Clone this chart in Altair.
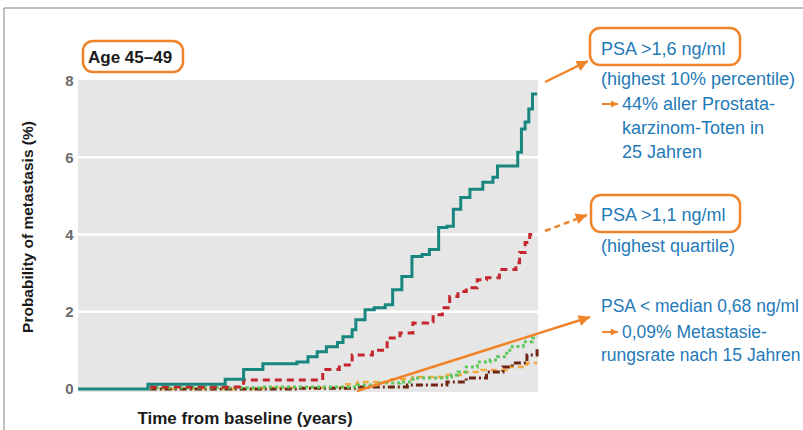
import altair as alt
import pandas as pd

# ---------------- data ----------------
# years from baseline / probability of metastasis (%)
teal_t = [0, 3.8, 8.0, 9.0, 10.05, 11.9, 12.5, 13.0, 13.5, 14.1, 14.4, 14.9, 15.1, 15.6,
          16.1, 16.7, 17.1, 17.6, 18.15, 18.7, 19.1, 19.6, 20.05, 20.4, 20.8, 21.3, 22.0,
          22.55, 22.8, 23.6, 23.9, 24.1, 24.3, 24.5, 24.7, 24.95]
teal_p = [0, 0.12, 0.25, 0.5, 0.65, 0.7, 0.83, 0.96, 1.09, 1.2, 1.35, 1.53, 1.79, 2.05,
          2.1, 2.18, 2.57, 2.91, 3.43, 3.48, 3.61, 4.18, 4.21, 4.65, 4.96, 5.17, 5.35,
          5.48, 5.77, 5.77, 6.13, 6.73, 6.91, 7.25, 7.64, 7.64]

red_t = [3.9, 9.0, 12.8, 13.3, 14.2, 14.9, 16.0, 16.8, 17.5, 18.2, 19.0, 19.3, 19.8,
         20.2, 20.65, 21.1, 21.7, 22.2, 22.9, 23.5, 23.8, 24.0, 24.3, 24.55, 24.8]
red_p = [0.05, 0.23, 0.23, 0.5, 0.62, 0.88, 1.0, 1.32, 1.45, 1.71, 1.74, 1.92, 2.1,
         2.39, 2.52, 2.62, 2.83, 2.88, 3.09, 3.09, 3.27, 3.53, 3.79, 4.0, 4.05]

green_t = [3.9, 10.0, 15.2, 16.4, 17.5, 18.2, 20.05, 20.3, 20.65, 21.1, 21.7, 22.4, 22.8,
           23.3, 23.6, 24.2, 24.7, 24.95]
green_p = [0.03, 0.05, 0.1, 0.15, 0.18, 0.28, 0.3, 0.36, 0.44, 0.57, 0.7, 0.75, 0.83,
           1.0, 1.1, 1.22, 1.32, 1.35]

brown_t = [3.9, 12.0, 15.2, 17.9, 20.05, 21.1, 22.2, 23.1, 23.6, 24.4, 24.95]
brown_p = [0.0, 0.02, 0.05, 0.1, 0.18, 0.28, 0.44, 0.57, 0.67, 0.88, 1.04]

orange_t = [3.9, 10.0, 14.5, 15.2, 16.9, 18.2, 20.05, 20.8, 21.9, 23.3, 24.4, 24.95]
orange_p = [0.0, 0.03, 0.12, 0.18, 0.25, 0.31, 0.36, 0.44, 0.49, 0.57, 0.67, 0.67]

y_ticks = [0, 2, 4, 6, 8]
grid_vals = [2, 4, 6]

age_label = "Age 45–49"
x_title = "Time from baseline (years)"
y_title = "Probability of metastasis (%)"
top_lines = ["PSA >1,6 ng/ml", "(highest 10% percentile)", "44% aller Prostata-",
             "karzinom-Toten in", "25 Jahren"]
mid_lines = ["PSA >1,1 ng/ml", "(highest quartile)"]
low_lines = ["PSA < median 0,68 ng/ml", "0,09% Metastasie-", "rungsrate nach 15 Jahren"]

# ---------------- layout constants ----------------
L, T = 78, 80            # plot origin in page pixels
W, H = 460, 312
BLUE = "#1f7ab8"
ORANGE = "#f0842a"
FONT = "Liberation Sans"


def rx(px):
    return px - L


def ry(py):
    return py - T


X = alt.X("t:Q", scale=alt.Scale(domain=[0, 25], nice=False, zero=False), axis=None)
Y = alt.Y("p:Q", scale=alt.Scale(domain=[-0.08, 8], nice=False, zero=False),
          axis=alt.Axis(values=y_ticks, ticks=False, domain=False, grid=False, title=None,
                        labelFontSize=15, labelColor="#6b6b6b", labelPadding=5,
                        labelFont=FONT, labelFontWeight="bold"))

dummy = alt.Data(values=[{}])

grid = alt.Chart(pd.DataFrame({"p": grid_vals})).mark_rule(
    color="white", strokeWidth=2.5).encode(y=Y, x=alt.value(0), x2=alt.value(W))


def series(ts, ps, color, dash, width=3):
    kw = dict(color=color, strokeWidth=width, interpolate="step-after")
    if dash:
        kw["strokeDash"] = dash
    return alt.Chart(pd.DataFrame({"t": ts, "p": ps})).mark_line(**kw).encode(x=X, y=Y)


lines = [
    series(orange_t, orange_p, "#f4a83c", [6, 4], 2.5),
    series(brown_t, brown_p, "#6e2612", [7, 3, 2, 3], 3),
    series(green_t, green_p, "#5cc75c", [3, 3], 3),
    series(red_t, red_p, "#c4262e", [7, 5], 3),
    series(teal_t, teal_p, "#17877f", None, 3),
]


def text(s, px, py, size=18, color=BLUE, weight="normal", align="left", baseline="alphabetic", angle=0):
    kw = dict(fontSize=size, color=color, font=FONT, fontWeight=weight, align=align,
              baseline=baseline)
    if angle:
        kw["angle"] = angle
    return alt.Chart(dummy).mark_text(**kw).encode(
        x=alt.value(rx(px)), y=alt.value(ry(py)), text=alt.value(s))


def box(x1, y1, x2, y2):
    return alt.Chart(dummy).mark_rect(
        cornerRadius=10, fillOpacity=0, stroke=ORANGE, strokeWidth=2.5).encode(
        x=alt.value(rx(x1)), x2=alt.value(rx(x2)), y=alt.value(ry(y1)), y2=alt.value(ry(y2)))


def arrow(x1, y1, x2, y2, angle, dash=None, width=2.5, size=500):
    kw = dict(color=ORANGE, strokeWidth=width)
    if dash:
        kw["strokeDash"] = dash
    shaft = alt.Chart(dummy).mark_rule(**kw).encode(
        x=alt.value(rx(x1)), y=alt.value(ry(y1)), x2=alt.value(rx(x2)), y2=alt.value(ry(y2)))
    head = alt.Chart(dummy).mark_point(
        shape="M0,0L-0.5,1L0.5,1Z", filled=True, color=ORANGE, opacity=1,
        size=size, angle=angle).encode(x=alt.value(rx(x2)), y=alt.value(ry(y2)))
    return [shaft, head]


frame = [
    alt.Chart(dummy).mark_rule(color="#808080", strokeWidth=1).encode(
        x=alt.value(rx(4)), x2=alt.value(rx(803)), y=alt.value(ry(8))),
    alt.Chart(dummy).mark_rule(color="#808080", strokeWidth=1).encode(
        x=alt.value(rx(4)), y=alt.value(ry(8)), y2=alt.value(ry(430))),
]

annot = []
annot += [box(83, 41, 183, 72), text(age_label, 88, 63, size=17, color="#1a1a1a", weight="bold")]
annot += [text(x_title, 245, 424, size=17, color="#1a1a1a", weight="bold", align="center")]
annot += [text(y_title, 28, 227, size=15.5, color="#1a1a1a", weight="bold", align="center",
               baseline="middle", angle=270)]

annot += [box(590, 28, 740, 65)]
annot += [text(top_lines[0], 601, 55), text(top_lines[1], 601, 85),
          text(top_lines[2], 622, 110), text(top_lines[3], 622, 134), text(top_lines[4], 622, 158)]
annot += arrow(602, 104, 618, 104, 90, width=2, size=200)
annot += arrow(545, 82, 588, 61, 64)

annot += [box(591, 195, 740, 232)]
annot += [text(mid_lines[0], 601, 221), text(mid_lines[1], 601, 252)]
annot += arrow(545, 231, 587, 215, 70, dash=[6, 4])

annot += [text(low_lines[0], 601, 312, size=17.5),
          text(low_lines[1], 622, 338, size=17.5), text(low_lines[2], 601, 361, size=17.5)]
annot += arrow(602, 332, 618, 332, 90, width=2, size=200)
annot += arrow(357, 391, 590, 317, 72)

chart = alt.layer(grid, *lines, *frame, *annot).properties(
    width=W, height=H,
    padding={"left": L, "top": T, "right": 803 - L - W, "bottom": 430 - T - H},
    autosize=alt.AutoSizeParams(type="none"),
    background="white",
).configure_view(fill="#e6e6e6", stroke=None)

chart.save("out.html", embed_options={"renderer": "svg", "actions": False})
